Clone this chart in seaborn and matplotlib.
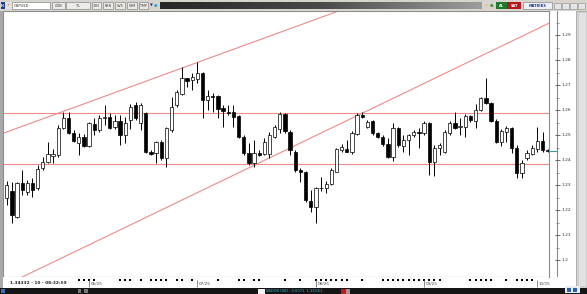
import numpy as np
import pandas as pd
import matplotlib
matplotlib.use("Agg")
import matplotlib.pyplot as plt
import seaborn as sns
from matplotlib.patches import Rectangle

sns.set_theme(style="white")
plt.rcParams["font.family"] = ["DejaVu Sans"]

# ---------------- data ----------------
opens = [1.2247, 1.2276, 1.2173, 1.2307, 1.2273, 1.2309, 1.2287, 1.2367, 1.2393, 1.2416,
         1.2420, 1.2529, 1.2567, 1.2509, 1.2469, 1.2493, 1.2456, 1.2543, 1.2520, 1.2567,
         1.2573, 1.2533, 1.2556, 1.2500, 1.2560, 1.2620, 1.2547, 1.2589, 1.2431, 1.2427,
         1.2471, 1.2407, 1.2520, 1.2620, 1.2663, 1.2727, 1.2720, 1.2724, 1.2747, 1.2640,
         1.2657, 1.2657, 1.2607, 1.2593, 1.2591, 1.2576, 1.2493, 1.2427, 1.2387, 1.2427,
         1.2423, 1.2423, 1.2493, 1.2524, 1.2583, 1.2513, 1.2433, 1.2360, 1.2351, 1.2236,
         1.2213, 1.2287, 1.2287, 1.2303, 1.2353, 1.2440, 1.2444, 1.2431, 1.2504, 1.2580,
         1.2533, 1.2556, 1.2507, 1.2493, 1.2463, 1.2413, 1.2529, 1.2457, 1.2480, 1.2500,
         1.2513, 1.2507, 1.2549, 1.2391, 1.2447, 1.2433, 1.2507, 1.2547, 1.2531, 1.2533,
         1.2576, 1.2557, 1.2600, 1.2649, 1.2627, 1.2557, 1.2471, 1.2511, 1.2529, 1.2447,
         1.2347, 1.2407, 1.2423, 1.2444, 1.2476, 1.2440]
highs = [1.2316, 1.2313, 1.2313, 1.2360, 1.2320, 1.2327, 1.2380, 1.2413, 1.2471, 1.2443,
         1.2540, 1.2593, 1.2591, 1.2520, 1.2507, 1.2503, 1.2553, 1.2567, 1.2580, 1.2620,
         1.2587, 1.2580, 1.2580, 1.2573, 1.2623, 1.2633, 1.2627, 1.2593, 1.2440, 1.2476,
         1.2480, 1.2533, 1.2653, 1.2680, 1.2773, 1.2729, 1.2747, 1.2793, 1.2753, 1.2680,
         1.2667, 1.2660, 1.2620, 1.2620, 1.2620, 1.2580, 1.2500, 1.2467, 1.2480, 1.2440,
         1.2487, 1.2513, 1.2540, 1.2591, 1.2587, 1.2520, 1.2440, 1.2367, 1.2356, 1.2280,
         1.2293, 1.2333, 1.2316, 1.2367, 1.2449, 1.2463, 1.2480, 1.2516, 1.2587, 1.2593,
         1.2560, 1.2560, 1.2511, 1.2500, 1.2487, 1.2547, 1.2533, 1.2500, 1.2503, 1.2520,
         1.2527, 1.2556, 1.2553, 1.2460, 1.2467, 1.2520, 1.2556, 1.2591, 1.2567, 1.2583,
         1.2580, 1.2623, 1.2653, 1.2727, 1.2633, 1.2564, 1.2524, 1.2537, 1.2533, 1.2460,
         1.2400, 1.2440, 1.2460, 1.2533, 1.2511, 1.2443]
lows = [1.2220, 1.2147, 1.2167, 1.2260, 1.2260, 1.2253, 1.2280, 1.2360, 1.2387, 1.2387,
        1.2413, 1.2524, 1.2503, 1.2471, 1.2420, 1.2453, 1.2453, 1.2500, 1.2513, 1.2540,
        1.2524, 1.2524, 1.2460, 1.2467, 1.2524, 1.2560, 1.2520, 1.2427, 1.2420, 1.2387,
        1.2400, 1.2373, 1.2513, 1.2613, 1.2660, 1.2693, 1.2680, 1.2707, 1.2567, 1.2600,
        1.2593, 1.2567, 1.2533, 1.2580, 1.2533, 1.2487, 1.2420, 1.2380, 1.2373, 1.2416,
        1.2420, 1.2407, 1.2487, 1.2507, 1.2507, 1.2420, 1.2353, 1.2313, 1.2233, 1.2193,
        1.2147, 1.2276, 1.2267, 1.2300, 1.2351, 1.2433, 1.2431, 1.2423, 1.2500, 1.2567,
        1.2527, 1.2500, 1.2487, 1.2457, 1.2407, 1.2396, 1.2453, 1.2433, 1.2420, 1.2493,
        1.2449, 1.2500, 1.2340, 1.2337, 1.2420, 1.2427, 1.2500, 1.2524, 1.2500, 1.2493,
        1.2553, 1.2527, 1.2596, 1.2623, 1.2553, 1.2467, 1.2457, 1.2471, 1.2427, 1.2327,
        1.2329, 1.2400, 1.2420, 1.2433, 1.2433, 1.2433]
closes = [1.2300, 1.2180, 1.2309, 1.2280, 1.2309, 1.2280, 1.2363, 1.2393, 1.2423, 1.2424,
          1.2529, 1.2567, 1.2507, 1.2476, 1.2493, 1.2457, 1.2547, 1.2520, 1.2569, 1.2573,
          1.2529, 1.2556, 1.2500, 1.2547, 1.2613, 1.2567, 1.2620, 1.2433, 1.2423, 1.2471,
          1.2407, 1.2529, 1.2613, 1.2671, 1.2727, 1.2717, 1.2733, 1.2747, 1.2640, 1.2657,
          1.2653, 1.2604, 1.2596, 1.2587, 1.2573, 1.2493, 1.2427, 1.2387, 1.2427, 1.2420,
          1.2473, 1.2500, 1.2533, 1.2583, 1.2516, 1.2440, 1.2360, 1.2351, 1.2240, 1.2213,
          1.2287, 1.2289, 1.2303, 1.2360, 1.2444, 1.2452, 1.2433, 1.2507, 1.2580, 1.2573,
          1.2553, 1.2507, 1.2493, 1.2463, 1.2413, 1.2529, 1.2460, 1.2480, 1.2500, 1.2511,
          1.2508, 1.2549, 1.2391, 1.2447, 1.2460, 1.2511, 1.2547, 1.2529, 1.2536, 1.2576,
          1.2560, 1.2600, 1.2647, 1.2627, 1.2556, 1.2471, 1.2516, 1.2527, 1.2447, 1.2347,
          1.2387, 1.2427, 1.2447, 1.2476, 1.2440, 1.2436]

date_labels = ["06/25", "07/25", "08/25", "09/25", "10/25"]
date_positions = [16, 37, 60, 81, 103]
event_positions = [14, 15, 16, 17, 22, 23, 24, 26, 28, 29, 30, 31, 33, 34, 36, 41, 45, 46,
                   48, 49, 54, 57, 60, 61, 62, 63, 64, 65, 66, 69, 73, 74, 75, 76, 77, 78,
                   79, 80, 81, 82, 83, 84, 90, 91, 92, 93, 94, 97, 99, 100, 101, 102]
support_resistance = [1.2589, 1.2384]
upper_trend = [(0, 1.2512), (60, 1.2963)]
lower_trend = [(0, 1.1902), (100, 1.2895)]
y_ticks = [1.20, 1.21, 1.22, 1.23, 1.24, 1.25, 1.26, 1.27, 1.28, 1.29, 1.30]
cursor_text = "1.34332 - 10 - 08:32:59"

df = pd.DataFrame({"open": opens, "high": highs, "low": lows, "close": closes})
df["idx"] = np.arange(len(df))
df["up"] = df["close"] >= df["open"]
df["bottom"] = df[["open", "close"]].min(axis=1)
df["body"] = (df["close"] - df["open"]).abs().clip(lower=0.00018)

# ---------------- figure ----------------
W, H = 587, 294
fig = plt.figure(figsize=(W / 100, H / 100), dpi=100)
fig.patch.set_facecolor("white")

def box(l, t, r, b):
    return [l / W, 1 - b / H, (r - l) / W, (b - t) / H]

PT, PB, PL, PR = 11, 277, 3, 549
ax = fig.add_axes(box(PL, PT, PR, PB))
ax.set_facecolor("white")
ymin, ymax = 1.1932, 1.2996
ax.set_ylim(ymin, ymax)
ax.set_xlim(-0.72, 105.25)
ax.set_xticks([]); ax.set_yticks([])
for s in ax.spines.values():
    s.set_color("#8c8c8c"); s.set_linewidth(0.8)

trend_col = "#f08a8a"
for lvl in support_resistance:
    ax.axhline(lvl, color=trend_col, lw=0.8, zorder=1)
ax.axline(upper_trend[0], upper_trend[1], color=trend_col, lw=0.8, zorder=1)
ax.axline(lower_trend[0], lower_trend[1], color=trend_col, lw=0.8, zorder=1)

ax.vlines(df["idx"], df["low"], df["high"], color="black", lw=0.7, zorder=2)
ax.bar(df["idx"], df["body"], bottom=df["bottom"], width=0.64,
       color=np.where(df["up"], "white", "black"), edgecolor="black", linewidth=0.5, zorder=3)

# ---------------- right price scale ----------------
axr = fig.add_axes(box(PR, PT, 576, PB), sharey=ax)
axr.set_xlim(0, 1)
axr.axis("off")
axr.axvline(0.31, color="#8c8c8c", lw=0.8)
for t in y_ticks:
    axr.hlines(t, 0.22, 0.42, color="#555555", lw=0.6, clip_on=False)
    axr.text(0.46, t, f"{t:g}", fontsize=3.2, va="center", ha="left", color="#333333", clip_on=False)
for t in y_ticks[:-1]:
    axr.hlines(t + 0.005, 0.26, 0.36, color="#777777", lw=0.5)
axr.hlines(closes[-1], 0.0, 0.3, color="#2aa7a0", lw=0.8)

# ---------------- bottom date strip ----------------
axd = fig.add_axes(box(PL, PB, PR, 288), sharex=ax)
axd.set_ylim(0, 1)
axd.set_facecolor("white")
axd.set_xticks([]); axd.set_yticks([])
for s in axd.spines.values():
    s.set_visible(False)
sns.scatterplot(x=event_positions, y=[0.74] * len(event_positions), marker="s", s=2.2,
                color="black", edgecolor="black", linewidth=0, ax=axd, legend=False)
for pos, lab in zip(date_positions, date_labels):
    axd.vlines(pos, 0.08, 0.72, color="#777777", lw=0.6)
    axd.text(pos + 0.3, 0.33, lab, fontsize=3, va="center", ha="left", color="#444444")
axd.text(0.6, 0.42, cursor_text, fontsize=3.1, fontweight="bold", va="center", ha="left",
         color="#222222")

# ---------------- window chrome overlay ----------------
ov = fig.add_axes([0, 0, 1, 1], zorder=10)
ov.set_xlim(0, W); ov.set_ylim(H, 0); ov.axis("off"); ov.patch.set_alpha(0)

def rect(l, t, r, b, fc, ec="none", lw=0.5):
    ov.add_patch(Rectangle((l, t), r - l, b - t, facecolor=fc, edgecolor=ec, linewidth=lw))

# left border & right scrollbar
rect(0, PT, PL, 288, "#a8a8a8")
rect(576, PT, 587, 288, "#cfcfcf", "#9a9a9a")
rect(579, PT + 2, 586, 286, "#e2e2e2")

# top toolbar
rect(0, 0, W, PT, "#d7d4cf")
grad = np.linspace(0, 1, 256).reshape(1, -1)
ov.imshow(grad, extent=(160, 482, 9, 2), cmap=matplotlib.colors.LinearSegmentedColormap.from_list(
    "g", ["#262626", "#4a4a4a", "#9d9d9d"]), aspect="auto", zorder=1)
rect(0.5, 2, 4.5, 9, "#1d3c8f")
ov.text(2.5, 5.6, "H", fontsize=2.4, color="white", ha="center", va="center", fontweight="bold")
rect(5, 2, 12, 9, "#e9e2d6")
ov.text(8.5, 5.6, "✓", fontsize=3, color="#cc2222", ha="center", va="center")
rect(12, 2, 50, 9, "white", "#8a8a8a")
ov.text(14, 5.6, "GBPUSD", fontsize=2.6, color="#333333", va="center")
for (l, r, lab) in [(52, 65, "GÜN"), (66, 90, "TL"), (92, 101, "12N"), (103, 113, "KKN"),
                    (115, 125, "SVS"), (127, 137, "SYM"), (139, 148, "TMP")]:
    rect(l, 2, r, 9, "#ecebe8", "#8a8a8a")
    ov.text((l + r) / 2, 5.6, lab, fontsize=2.4, color="#333333", ha="center", va="center")
ov.text(151, 5.6, "▼", fontsize=2.6, color="#1d3c8f", ha="center", va="center")
ov.text(156, 5.6, "●", fontsize=3, color="#2aa6e0", ha="center", va="center")
ov.text(486, 5.6, "⚡", fontsize=3, color="#e0a020", ha="center", va="center")
ov.text(492, 5.6, "●", fontsize=3, color="#3a9a3a", ha="center", va="center")
rect(496, 2, 507, 9, "#1f7a2a")
ov.text(501.5, 5.6, "AL", fontsize=2.5, color="white", ha="center", va="center", fontweight="bold")
rect(507, 2, 521, 9, "#b3171b")
ov.text(514, 5.6, "SAT", fontsize=2.5, color="white", ha="center", va="center", fontweight="bold")
rect(523, 2, 552, 9, "#eef0f6", "#8a8a8a")
ov.text(537.5, 5.6, "MATRİKS", fontsize=2.5, color="#1d3c8f", ha="center", va="center", fontweight="bold")
for l in (554, 562, 570, 578):
    rect(l, 2.5, l + 7, 8.5, "#e4e4e4", "#9a9a9a")

# bottom status bar
rect(0, 288, W, H, "#151515")
rect(1, 289, 5, 293, "#3c6fc0")
rect(78, 289, 81, 293, "#777777"); rect(84, 289, 88, 293, "#777777")
rect(258, 288.5, 265, 293.5, "#f2f2f2")
ov.text(266, 291.2, "SBDOR USD : 0.0071  1.3393/1.", fontsize=2.6, color="#39b7d6", va="center")
rect(341, 288.5, 346, 293.5, "#c4161c")
rect(346, 288.5, 350, 293.5, "#9a9a9a")
rect(565, 286, 580, 293, "#e8eef8")
rect(567, 287.5, 571, 291.5, "#2a5caa")
rect(573, 287.5, 577, 291.5, "#2a5caa")

fig.savefig("out.png", dpi=100, facecolor=fig.get_facecolor())
